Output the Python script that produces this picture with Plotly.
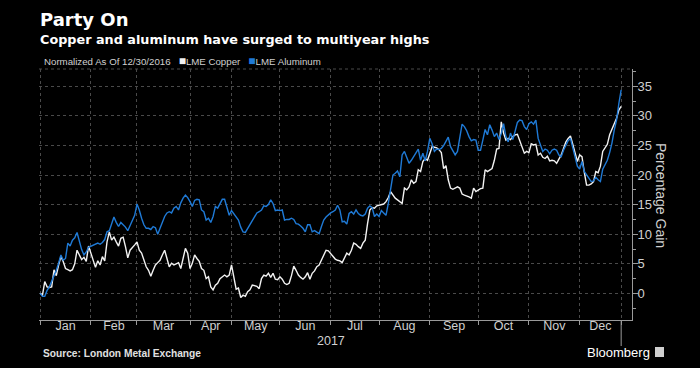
import numpy as np
import pandas as pd
import plotly.graph_objects as go

# ---------------- data ----------------
months = ["Jan", "Feb", "Mar", "Apr", "May", "Jun", "Jul", "Aug", "Sep", "Oct", "Nov", "Dec"]
year_label = "2017"
y_ticks = [0, 5, 10, 15, 20, 25, 30, 35]
lme_holidays = ["2017-01-02", "2017-04-14", "2017-04-17", "2017-05-01",
                "2017-05-29", "2017-08-28", "2017-12-25", "2017-12-26"]

# percentage gain since 12/30/2016, one value per LME trading day (30 Dec 2016 .. 29 Dec 2017)
copper = [
    0, -0.3, 2.0, 1.1, 1.0, 1.1, 4.0, 3.0, 4.8, 6.2,
    5.4, 4.2, 4.0, 3.8, 4.0, 5.0, 7.3, 6.5, 5.7, 6.1,
    5.4, 8.0, 6.8, 5.9, 4.4, 5.5, 4.8, 6.2, 5.5, 8.7,
    10.4, 9.0, 9.5, 8.7, 8.0, 9.3, 9.5, 7.9, 6.0, 7.3,
    7.7, 8.2, 8.7, 7.3, 6.8, 5.6, 4.5, 3.9, 2.9, 3.9,
    4.8, 5.2, 5.6, 6.5, 7.3, 5.9, 4.5, 5.1, 4.8, 5.0,
    5.2, 4.2, 6.0, 7.6, 6.8, 4.2, 5.1, 6.5, 5.9, 5.4,
    4.2, 3.9, 2.5, 2.8, 1.1, 0.6, 1.4, 1.7, 2.5, 2.8,
    3.1, 2.8, 3.1, 4.8, 2.8, 0.7, 0.9, -0.7, -0.3, -0.5,
    0.3, 0.6, 1.4, 1.3, 1.2, 0.8, 2.5, 3.1, 2.9, 3.4,
    2.7, 3.4, 2.4, 2.3, 2.8, 2.4, 1.7, 1.5, 1.7, 3.0,
    4.6, 3.9, 3.1, 2.7, 2.4, 2.8, 3.5, 2.4, 3.4, 3.8,
    4.5, 4.8, 5.6, 6.5, 7.3, 7.2, 6.7, 6.2, 5.8, 5.6,
    5.5, 5.2, 5.9, 6.8, 6.5, 7.3, 8.5, 8.3, 7.9, 7.6,
    8.5, 9.0, 11.8, 14.1, 14.5, 14.4, 14.8, 14.9, 14.9, 15.1,
    15.5, 16.2, 17.2, 16.6, 16.1, 15.8, 15.5, 15.2, 17.8, 17.5,
    18.0, 19.2, 18.6, 18.9, 20.9, 20.6, 22.3, 22.8, 22.5, 23.7,
    24.8, 24.7, 24.6, 24.3, 23.8, 21.1, 21.6, 19.2, 17.8, 17.6,
    17.8, 18.0, 17.8, 16.8, 16.6, 16.5, 16.3, 16.1, 17.8, 17.2,
    17.5, 17.7, 17.8, 20.9, 20.6, 20.8, 21.1, 22.5, 24.4, 24.5,
    29.0, 27.1, 25.9, 26.2, 26.0, 26.5, 26.8, 26.9, 25.9, 24.8,
    23.7, 24.0, 23.8, 25.3, 25.1, 25.2, 23.4, 23.7, 23.0, 22.8,
    23.2, 22.4, 22.5, 22.4, 22.0, 22.7, 23.4, 24.5, 25.6, 26.2,
    26.6, 25.2, 23.6, 22.3, 23.4, 23.1, 20.5, 18.3, 18.3, 18.5,
    18.9, 20.6, 20.4, 21.5, 24.0, 24.5, 25.2, 26.8, 27.7, 28.5,
    29.6, 31.0, 31.6,
]
aluminum = [
    0, -0.5, -0.5, 0.5, 1.1, 2.0, 2.8, 3.9, 5.1, 6.5,
    5.6, 5.9, 8.5, 8.0, 9.0, 9.4, 10.3, 8.7, 7.4, 6.5,
    7.0, 7.8, 8.0, 8.1, 8.3, 8.5, 8.3, 8.6, 9.1, 10.4,
    10.6, 11.6, 12.9, 12.0, 11.3, 12.0, 11.6, 11.2, 10.6, 11.5,
    12.1, 13.2, 15.1, 14.1, 12.7, 11.6, 11.0, 11.0, 10.8, 11.3,
    11.1, 10.0, 11.0, 12.1, 13.0, 13.6, 13.8, 13.6, 14.4, 14.7,
    14.1, 15.3, 16.1, 16.6, 16.2, 15.5, 14.7, 15.7, 15.9, 15.8,
    14.1, 13.8, 12.4, 12.7, 12.0, 13.0, 14.7, 14.4, 15.2, 15.9,
    15.9, 14.7, 13.2, 14.0, 13.5, 13.1, 12.4, 11.2, 10.4, 10.3,
    11.0, 11.5, 12.3, 12.9, 13.6, 13.8, 14.1, 14.8, 14.7, 15.0,
    15.8, 15.2, 14.0, 14.1, 14.0, 14.1, 12.4, 12.5, 12.5, 12.7,
    12.5, 11.8, 11.7, 11.4, 11.0, 10.4, 11.6, 11.6, 10.4, 10.6,
    10.4, 10.1, 11.3, 12.4, 12.9, 13.3, 13.6, 13.8, 14.1, 14.9,
    14.1, 12.1, 12.2, 11.7, 13.5, 13.8, 13.4, 14.1, 13.5, 13.2,
    13.1, 13.4, 14.4, 14.8, 14.5, 13.0, 13.4, 13.0, 14.0, 13.6,
    13.2, 15.2, 17.5, 20.0, 20.3, 20.7, 19.7, 23.4, 24.0, 22.8,
    22.0, 22.5, 23.1, 23.7, 24.4, 22.5, 23.7, 22.4, 24.0, 26.2,
    25.3, 24.0, 24.4, 24.3, 24.5, 25.0, 25.6, 26.4, 24.8, 24.0,
    23.4, 24.0, 26.5, 28.6, 28.2, 27.5, 26.5, 25.8, 26.0, 25.9,
    24.2, 24.2, 25.9, 27.7, 26.8, 28.5, 27.6, 26.5, 27.1, 26.0,
    27.0, 28.7, 26.5, 25.6, 27.1, 26.0, 27.4, 28.9, 29.3, 29.2,
    28.2, 27.7, 28.7, 29.0, 28.6, 29.3, 26.2, 25.0, 24.0, 24.4,
    24.2, 23.6, 24.2, 24.4, 24.2, 23.4, 23.1, 24.2, 25.1, 25.8,
    26.2, 24.5, 23.0, 21.5, 21.0, 22.3, 20.6, 20.0, 19.4, 18.9,
    19.0, 19.6, 19.2, 18.9, 21.0, 21.7, 22.5, 23.8, 25.4, 27.6,
    29.3, 32.1, 34.4,
]

# ---------------- trading calendar -> x positions ----------------
dates = pd.bdate_range("2016-12-30", "2017-12-29", freq="C", holidays=lme_holidays)
n = min(len(dates), len(copper), len(aluminum))
dates = dates[:n]
day = np.arange(n)
copper = copper[:n]
aluminum = aluminum[:n]

bounds = [0]
for m in range(2, 13):
    bounds.append(int(np.argmax((dates.month == m) & (dates.year == 2017))))
bounds.append(n - 1)
mid = [(bounds[i] + bounds[i + 1]) / 2 for i in range(12)]

# plot-area geometry (px) used to place texts around it
L, R, T, B = 39, 632, 69, 320
PW, PH = R - L, B - T


def px(x):
    return (x - L) / PW


def py(y):
    return (B - y) / PH


BG = "#000000"
GRID = "#4a4a4a"
TXT = "#d0d0d0"
SANS = "Liberation Sans, Arial, sans-serif"
BOLD = "DejaVu Sans, Verdana, sans-serif"
COPPER_C = "#f2f2f2"
ALU_C = "#1f7ad6"

fig = go.Figure()
fig.add_trace(go.Scatter(x=day, y=copper, mode="lines", name="LME Copper",
                         line=dict(color=COPPER_C, width=1.4),
                         customdata=dates.strftime("%m/%d/%Y"),
                         hovertemplate="%{customdata}: %{y:.1f}%<extra>LME Copper</extra>"))
fig.add_trace(go.Scatter(x=day, y=aluminum, mode="lines", name="LME Aluminum",
                         line=dict(color=ALU_C, width=1.4),
                         customdata=dates.strftime("%m/%d/%Y"),
                         hovertemplate="%{customdata}: %{y:.1f}%<extra>LME Aluminum</extra>"))

fig.update_layout(
    width=700, height=368,
    paper_bgcolor=BG, plot_bgcolor=BG,
    margin=dict(l=L, r=700 - R, t=T, b=368 - B),
    showlegend=False,
    xaxis=dict(
        range=[-0.5, 256.7],
        tickmode="array", tickvals=mid, ticktext=months,
        showgrid=False, zeroline=False,
        ticks="", ticklabelstandoff=-6,
        tickfont=dict(family=SANS, size=12.5, color=TXT),
        showline=True, linecolor="#9a9a9a", linewidth=1,
        minor=dict(tickmode="array", tickvals=bounds, showgrid=True,
                   gridcolor=GRID, griddash="dot", gridwidth=1,
                   ticks="outside", ticklen=4, tickcolor="#9a9a9a"),
        fixedrange=True,
    ),
    yaxis=dict(
        side="right",
        range=[-4.5, 37.93],
        tickmode="array", tickvals=y_ticks,
        showgrid=True, gridcolor=GRID, griddash="dot", gridwidth=1,
        zeroline=False,
        ticks="outside", ticklen=5, tickcolor="#9a9a9a",
        ticklabelstandoff=-3,
        tickfont=dict(family=SANS, size=13, color=TXT),
        showline=True, linecolor="#9a9a9a", linewidth=1,
        minor=dict(dtick=2.5, tick0=0, ticks="outside", ticklen=3,
                   tickcolor="#9a9a9a", showgrid=False),
        fixedrange=True,
    ),
    hovermode="closest",
)

# top dotted frame line
fig.add_shape(type="line", xref="paper", yref="paper", x0=0, x1=1, y0=1, y1=1,
              line=dict(color=GRID, width=1, dash="dot"))
# year divider tick below the axis
fig.add_shape(type="line", xref="x", yref="paper", x0=bounds[-1], x1=bounds[-1],
              y0=0, y1=py(346), line=dict(color="#9a9a9a", width=1))

ann = []
ann.append(dict(text="<b>Party On</b>", x=px(38), y=py(20), xref="paper", yref="paper",
                xanchor="left", yanchor="middle", showarrow=False,
                font=dict(family=BOLD, size=18, color="#ffffff")))
ann.append(dict(text="<b>Copper and aluminum have surged to multiyear highs</b>",
                x=px(38), y=py(39), xref="paper", yref="paper",
                xanchor="left", yanchor="middle", showarrow=False,
                font=dict(family=BOLD, size=12.8, color="#ffffff")))
legend_txt = ("Normalized As Of 12/30/2016&nbsp;&nbsp;&nbsp;"
              f"<span style='color:{COPPER_C};font-size:12px'>■</span>LME Copper&nbsp;&nbsp;&nbsp;"
              f"<span style='color:{ALU_C};font-size:12px'>■</span>LME Aluminum")
ann.append(dict(text=legend_txt, x=px(42), y=py(60.5), xref="paper", yref="paper",
                xanchor="left", yanchor="middle", showarrow=False,
                font=dict(family=SANS, size=9.7, color=TXT)))
ann.append(dict(text="Percentage Gain", textangle=90, x=px(661), y=py(195),
                xref="paper", yref="paper", xanchor="center", yanchor="middle",
                showarrow=False, font=dict(family=SANS, size=14, color=TXT)))
ann.append(dict(text=year_label, x=(bounds[0] + bounds[-1]) / 2, y=py(341),
                xref="x", yref="paper", xanchor="center", yanchor="middle",
                showarrow=False, font=dict(family=SANS, size=12.5, color=TXT)))
ann.append(dict(text="<b>Source: London Metal Exchange</b>", x=px(41), y=py(354),
                xref="paper", yref="paper", xanchor="left", yanchor="middle",
                showarrow=False, font=dict(family=SANS, size=10.2, color="#e0e0e0")))
ann.append(dict(text="Bloomberg", x=px(652), y=py(352), xref="paper", yref="paper",
                xanchor="right", yanchor="middle", showarrow=False,
                font=dict(family=SANS, size=13, color="#ffffff")))
fig.update_layout(annotations=ann)

# small logo square next to "Bloomberg"
fig.add_shape(type="rect", xref="paper", yref="paper",
              x0=px(655), x1=px(664), y0=py(357), y1=py(347),
              fillcolor="#cfcfcf", line=dict(width=0))

fig.write_html("out.html", config={"displayModeBar": False},
               post_script="document.body.style.margin='0';document.body.style.background='#000';")
